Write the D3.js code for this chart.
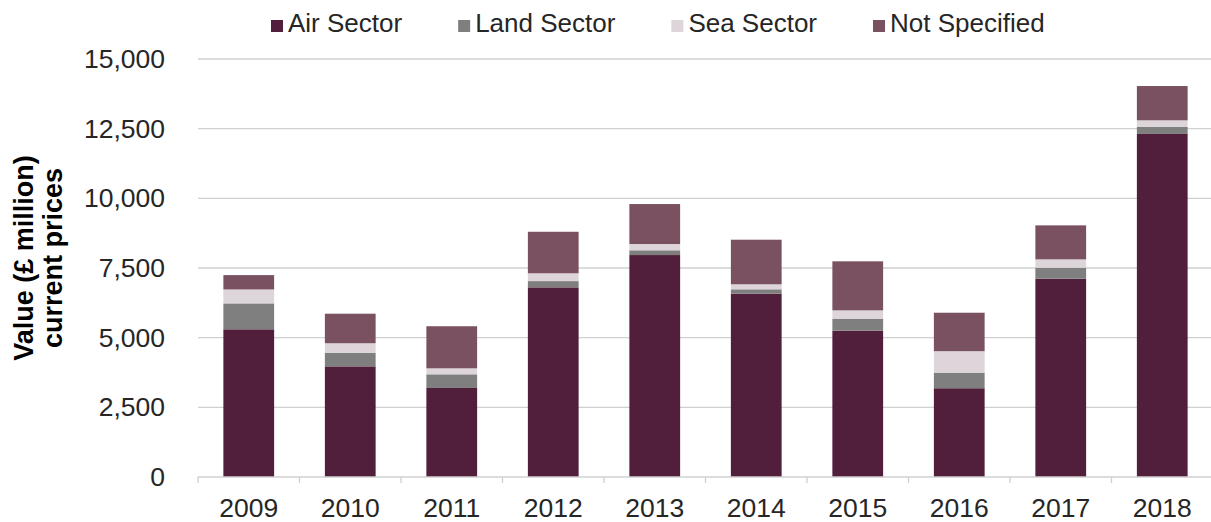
<!DOCTYPE html>
<html>
<head>
<meta charset="utf-8">
<script src="https://cdn.jsdelivr.net/npm/d3@7"></script>
<style>
  html, body { margin: 0; padding: 0; background: #fff; }
  svg { display: block; font-family: "Liberation Sans", Arial, sans-serif; }
</style>
</head>
<body>
<svg id="chart" width="1211" height="522"></svg>
<script>
// Defence export values by sector, £ million (current prices)
const years = ["2009", "2010", "2011", "2012", "2013", "2014", "2015", "2016", "2017", "2018"];
const airSector   = [5300, 3970, 3195, 6805, 7965, 6580, 5250, 3185, 7115, 12310];
const landSector  = [930, 490, 490, 225, 170, 155, 430, 560, 395, 260];
const seaSector   = [500, 340, 215, 280, 225, 180, 300, 770, 300, 230];
const notSpecified = [515, 1060, 1510, 1490, 1435, 1600, 1760, 1380, 1220, 1230];

const seriesNames = ["Air Sector", "Land Sector", "Sea Sector", "Not Specified"];
const seriesColors = ["#511f3b", "#7f7f7f", "#ddd5d9", "#7a5160"];
const yTicks = [0, 2500, 5000, 7500, 10000, 12500, 15000];

const rows = years.map((y, i) => ({
  year: y,
  "Air Sector": airSector[i],
  "Land Sector": landSector[i],
  "Sea Sector": seaSector[i],
  "Not Specified": notSpecified[i]
}));

const svg = d3.select("#chart");

const x = d3.scaleBand().domain(years).range([198, 1213]).paddingInner(0.5).paddingOuter(0.25);
const y = d3.scaleLinear().domain([0, 15000]).range([477, 59]);
const color = d3.scaleOrdinal().domain(seriesNames).range(seriesColors);

// Horizontal gridlines
svg.append("g")
  .selectAll("line")
  .data(yTicks.filter(t => t > 0))
  .join("line")
  .attr("x1", 198).attr("x2", 1211)
  .attr("y1", d => y(d)).attr("y2", d => y(d))
  .attr("stroke", "#d0d0d0").attr("stroke-width", 1.3);

// Y axis labels (no axis line)
const yAxis = svg.append("g")
  .attr("transform", "translate(165,0)")
  .call(d3.axisLeft(y).tickValues(yTicks).tickFormat(d3.format(",")).tickSize(0).tickPadding(0));
yAxis.select(".domain").remove();
yAxis.selectAll("text")
  .attr("font-family", "'Liberation Sans', Arial, sans-serif")
  .attr("font-size", 26.5)
  .attr("fill", "#262626");

// Stacked bars
const stack = d3.stack().keys(seriesNames);
const layers = stack(rows);

svg.append("g")
  .selectAll("g")
  .data(layers)
  .join("g")
  .attr("fill", d => color(d.key))
  .selectAll("rect")
  .data(d => d)
  .join("rect")
  .attr("x", d => x(d.data.year))
  .attr("width", x.bandwidth())
  .attr("y", d => y(d[1]))
  .attr("height", d => y(d[0]) - y(d[1]));

// X axis with boundary ticks between categories
const xAxisG = svg.append("g").attr("transform", `translate(0,${y(0)})`);
xAxisG.append("line")
  .attr("x1", 198).attr("x2", 1211)
  .attr("y1", 0).attr("y2", 0)
  .attr("stroke", "#d0d0d0").attr("stroke-width", 1.3);
const step = x.step();
const boundaries = d3.range(years.length + 1).map(i => 198 + i * step);
xAxisG.selectAll("line.tick")
  .data(boundaries)
  .join("line")
  .attr("class", "tick")
  .attr("x1", d => d).attr("x2", d => d)
  .attr("y1", 0).attr("y2", 6)
  .attr("stroke", "#d0d0d0").attr("stroke-width", 1.3);
xAxisG.selectAll("text")
  .data(years)
  .join("text")
  .attr("x", d => x(d) + x.bandwidth() / 2)
  .attr("y", 40)
  .attr("text-anchor", "middle")
  .attr("font-size", 26.5)
  .attr("fill", "#262626")
  .text(d => d);

// Y axis title, two lines
const title = svg.append("text")
  .attr("transform", "translate(33,258) rotate(-90)")
  .attr("text-anchor", "middle")
  .attr("font-size", 27)
  .attr("font-weight", "bold")
  .attr("fill", "#000");
title.append("tspan").attr("x", 0).attr("y", 0).text("Value (£ million)");
title.append("tspan").attr("x", 0).attr("y", 29).text("current prices");

// Legend
const legend = svg.append("g");
let lx = 271;
seriesNames.forEach(name => {
  const g = legend.append("g");
  g.append("rect")
    .attr("x", lx).attr("y", 20)
    .attr("width", 12).attr("height", 12)
    .attr("fill", color(name));
  const t = g.append("text")
    .attr("x", lx + 17).attr("y", 31.5)
    .attr("font-size", 26)
    .attr("fill", "#262626")
    .text(name);
  lx += 17 + t.node().getComputedTextLength() + 56;
});
</script>
</body>
</html>
